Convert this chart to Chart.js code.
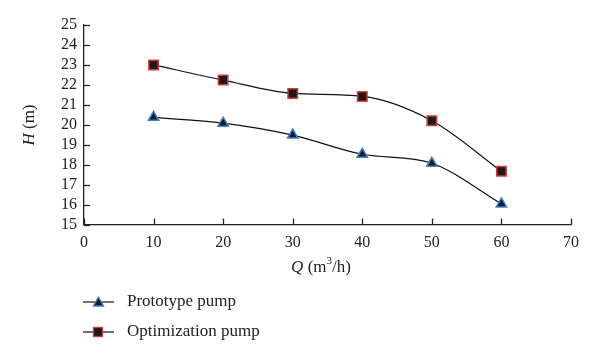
<!DOCTYPE html>
<html><head><meta charset="utf-8">
<script src="https://cdn.jsdelivr.net/npm/chart.js@4/dist/chart.umd.min.js"></script>
<style>html,body{margin:0;padding:0;background:#fff}#wrap{width:600px;height:363px}</style>
</head><body><div id="wrap"><canvas id="c" width="600" height="363"></canvas></div>
<script>
const flowQ = [10, 20, 30, 40, 50, 60];
const prototypeHead = [20.37, 20.08, 19.48, 18.52, 18.07, 16.03];
const optimizationHead = [23.0, 22.24, 21.57, 21.42, 20.2, 17.67];
const xTicks = [0, 10, 20, 30, 40, 50, 60, 70];
const yTicks = [15, 16, 17, 18, 19, 20, 21, 22, 23, 24, 25];
const seriesNames = ['Prototype pump', 'Optimization pump'];

const FONT = '"Liberation Serif", "Times New Roman", serif';
const TS = 17;

const extras = {
  id: 'extras',
  afterDraw(chart) {
    const ctx = chart.ctx, xs = chart.scales.x, ys = chart.scales.y;
    const ca = chart.chartArea;
    ctx.save();
    ctx.strokeStyle = '#222'; ctx.lineWidth = 1.3;
    xTicks.forEach(v => { const px = Math.round(xs.getPixelForValue(v)) + 0.5;
      ctx.beginPath(); ctx.moveTo(px, ca.bottom); ctx.lineTo(px, ca.bottom - 6); ctx.stroke(); });
    yTicks.forEach(v => { const py = Math.round(ys.getPixelForValue(v)) + 0.5;
      ctx.beginPath(); ctx.moveTo(ca.left, py); ctx.lineTo(ca.left + 6, py); ctx.stroke(); });
    ctx.fillStyle = '#222'; ctx.textBaseline = 'middle';
    const y0 = 268, cx = 321;
    ctx.font = 'italic ' + TS + 'px ' + FONT; const wQ = ctx.measureText('Q').width;
    ctx.font = TS + 'px ' + FONT; const wA = ctx.measureText(' (m').width; const wB = ctx.measureText('/h)').width;
    ctx.font = '11px ' + FONT; const w3 = ctx.measureText('3').width;
    let x = cx - (wQ + wA + w3 + wB) / 2;
    ctx.textAlign = 'left';
    ctx.font = 'italic ' + TS + 'px ' + FONT; ctx.fillText('Q', x, y0); x += wQ;
    ctx.font = TS + 'px ' + FONT; ctx.fillText(' (m', x, y0); x += wA;
    ctx.font = '11px ' + FONT; ctx.fillText('3', x, y0 - 7); x += w3;
    ctx.font = TS + 'px ' + FONT; ctx.fillText('/h)', x, y0);
    ctx.save(); ctx.translate(30, 125); ctx.rotate(-Math.PI / 2);
    ctx.font = 'italic ' + TS + 'px ' + FONT; const wH = ctx.measureText('H').width;
    ctx.font = TS + 'px ' + FONT; const wm = ctx.measureText(' (m)').width;
    let xx = -(wH + wm) / 2;
    ctx.font = 'italic ' + TS + 'px ' + FONT; ctx.fillText('H', xx, 0); xx += wH;
    ctx.font = TS + 'px ' + FONT; ctx.fillText(' (m)', xx, 0);
    ctx.restore();
    const items = [
      { y: 302, style: 'triangle', border: '#3f7fd0' },
      { y: 332, style: 'rect', border: '#d23a3a' }
    ];
    items.forEach((it, i) => {
      ctx.strokeStyle = '#111'; ctx.lineWidth = 1.2;
      ctx.beginPath(); ctx.moveTo(83, it.y); ctx.lineTo(114, it.y); ctx.stroke();
      ctx.fillStyle = '#1a1a1a'; ctx.strokeStyle = it.border; ctx.lineWidth = 1.3;
      if (it.style === 'rect') {
        ctx.fillRect(93.5, it.y - 4.5, 9, 9); ctx.strokeRect(93.5, it.y - 4.5, 9, 9);
      } else {
        ctx.beginPath(); ctx.moveTo(98.5, it.y - 5); ctx.lineTo(103.5, it.y + 4); ctx.lineTo(93.5, it.y + 4); ctx.closePath();
        ctx.fill(); ctx.stroke();
      }
      ctx.fillStyle = '#222'; ctx.font = TS + 'px ' + FONT; ctx.textAlign = 'left';
      ctx.fillText(seriesNames[i], 127, it.y);
    });
    ctx.restore();
  }
};

new Chart(document.getElementById('c'), {
  type: 'line',
  data: {
    datasets: [
      { label: seriesNames[0], data: flowQ.map((q, i) => ({ x: q, y: prototypeHead[i] })),
        borderColor: '#111', borderWidth: 1.2, cubicInterpolationMode: 'monotone',
        pointStyle: 'triangle', pointRadius: 6, pointBackgroundColor: '#1a1a1a', pointBorderColor: '#3f7fd0', pointBorderWidth: 1.5 },
      { label: seriesNames[1], data: flowQ.map((q, i) => ({ x: q, y: optimizationHead[i] })),
        borderColor: '#111', borderWidth: 1.2, cubicInterpolationMode: 'monotone',
        pointStyle: 'rect', pointRadius: 6.7, pointBackgroundColor: '#1a1a1a', pointBorderColor: '#d23a3a', pointBorderWidth: 1.5 }
    ]
  },
  options: {
    responsive: false, animation: false,
    layout: { padding: { left: 0, right: 29, top: 25, bottom: 0 } },
    plugins: { legend: { display: false }, tooltip: { enabled: false } },
    scales: {
      x: { type: 'linear', min: 0, max: 70,
        afterBuildTicks: s => { s.ticks = xTicks.map(v => ({ value: v })); },
        afterFit: s => { s.height = 363 - 224.5; },
        grid: { display: false, drawTicks: false },
        border: { display: true, color: '#222', width: 1.3 },
        ticks: { color: '#222', font: { family: FONT, size: 16 }, padding: 9, maxRotation: 0, autoSkip: false } },
      y: { type: 'linear', min: 15, max: 25,
        afterBuildTicks: s => { s.ticks = yTicks.map(v => ({ value: v })); },
        afterFit: s => { s.width = 84; },
        grid: { display: false, drawTicks: false },
        border: { display: true, color: '#222', width: 1.3 },
        ticks: { color: '#222', font: { family: FONT, size: 16 }, padding: 7, autoSkip: false } }
    }
  },
  plugins: [extras]
});
</script></body></html>
